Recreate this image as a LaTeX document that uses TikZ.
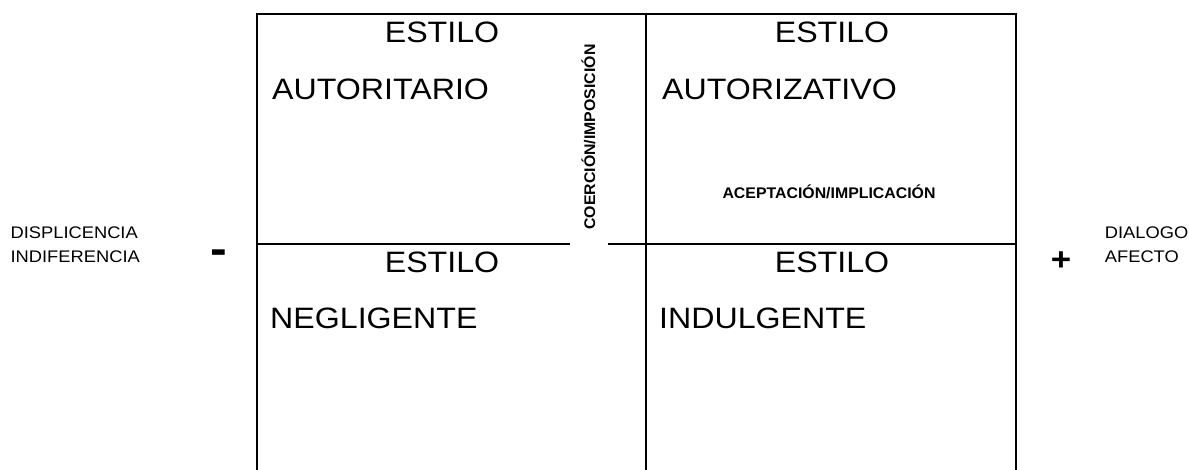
\documentclass[tikz,border=0pt]{standalone}
\usepackage{fontspec}
\setmainfont{Liberation Sans}[FakeStretch=1.09]
\newfontfamily\ejefont{Liberation Sans}[FakeStretch=1.03]
\usetikzlibrary{positioning}

\begin{document}
\begin{tikzpicture}[x=1pt,y=-1pt,
	marco/.style={line width=1.6pt},
	estilo/.style={inner sep=0pt,anchor=base,font=\fontsize{29.5}{35}\selectfont},
	tipo/.style={inner sep=0pt,anchor=base west,font=\fontsize{29.5}{35}\selectfont},
	eje/.style={inner sep=0pt,anchor=base,font=\ejefont\bfseries\fontsize{15.4}{18}\selectfont},
	lado/.style={inner sep=0pt,anchor=base west,font=\fontsize{16.8}{20}\selectfont},
	signo/.style={inner sep=0pt,anchor=base,font=\bfseries}]
	\useasboundingbox (0,0) rectangle (1189,470);
	\coordinate (TL) at (257,14);
	\coordinate (TM) at (646,14);
	\coordinate (TR) at (1016,14);
	\coordinate (BL) at (257,471);
	\coordinate (BM) at (646,471);
	\coordinate (BR) at (1016,471);
	\coordinate (ML) at (257,244);
	\coordinate (GL) at (570,244);
	\coordinate (GR) at (608,244);
	\coordinate (MR) at (1016,244);
	\draw[marco] (BL) -- (TL) -- (TR) -- (BR);
	\draw[marco] (TM) -- (BM);
	\draw[marco] (ML) -- (GL);
	\draw[marco] (GR) -- (MR);
	\node[estilo] (estiloA) at (442,43) {ESTILO};
	\node[tipo] (autoritario) at (272,100) {AUTORITARIO};
	\node[estilo] (estiloB) at (832,43) {ESTILO};
	\node[tipo] (autorizativo) at (662,100) {AUTORIZATIVO};
	\node[estilo] (estiloC) at (442,273) {ESTILO};
	\node[tipo] (negligente) at (270,329) {NEGLIGENTE};
	\node[estilo] (estiloD) at (832,273) {ESTILO};
	\node[tipo] (indulgente) at (659,329) {INDULGENTE};
	\node[eje,rotate=90] (coercion) at (595,137) {COERCIÓN/IMPOSICIÓN};
	\node[eje] (aceptacion) at (829,199) {ACEPTACIÓN/IMPLICACIÓN};
	\node[lado] (displicencia) at (10.4,239) {DISPLICENCIA};
	\node[lado] (indiferencia) at ([yshift=-23.5pt]displicencia.base west) {INDIFERENCIA};
	\node[lado] (dialogo) at (1104.7,239) {DIALOGO};
	\node[lado] (afecto) at ([yshift=-23.5pt]dialogo.base west) {AFECTO};
	\node[signo,font=\bfseries\fontsize{46}{50}\selectfont] (menos) at (219,265) {-};
	\node[signo,font=\bfseries\fontsize{32}{36}\selectfont] (mas) at (1061,270.5) {+};
\end{tikzpicture}
\end{document}
